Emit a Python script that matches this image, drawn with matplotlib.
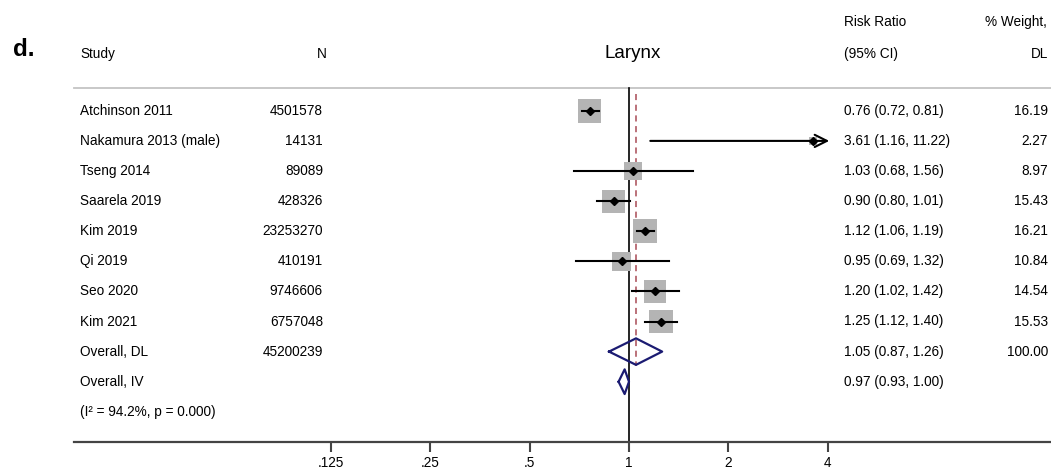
import numpy as np
import matplotlib.pyplot as plt

plt.rcParams['font.family'] = ['Liberation Sans', 'DejaVu Sans']

# study level data
studies = ['Atchinson 2011', 'Nakamura 2013 (male)', 'Tseng 2014', 'Saarela 2019',
           'Kim 2019', 'Qi 2019', 'Seo 2020', 'Kim 2021']
n_vals = [4501578, 14131, 89089, 428326, 23253270, 410191, 9746606, 6757048]
rr = [0.76, 3.61, 1.03, 0.90, 1.12, 0.95, 1.20, 1.25]
ci_lo = [0.72, 1.16, 0.68, 0.80, 1.06, 0.69, 1.02, 1.12]
ci_hi = [0.81, 11.22, 1.56, 1.01, 1.19, 1.32, 1.42, 1.40]
weights = [16.19, 2.27, 8.97, 15.43, 16.21, 10.84, 14.54, 15.53]

# pooled estimates
pooled_labels = ['Overall, DL', 'Overall, IV']
pooled_n = [45200239, None]
pooled_rr = [1.05, 0.97]
pooled_lo = [0.87, 0.93]
pooled_hi = [1.26, 1.00]
pooled_w = [100.00, None]
het_text = '(I\u00b2 = 94.2%, p = 0.000)'

xticks = [0.125, 0.25, 0.5, 1, 2, 4]
xtick_labels = ['.125', '.25', '.5', '1', '2', '4']

W, H = 1051, 470
fig = plt.figure(figsize=(W / 100, H / 100), dpi=100)
ax = fig.add_axes([0, 0, 1, 1])
ax.set_xscale('log', base=2)

# map pixels -> data: 1 at x=629, 99.4 px per doubling; rows 30.1 px apart
px_one, px_dbl = 629, 99.4
row0, row_h = 110.8, 30.1
ax.set_xlim(2 ** (-px_one / px_dbl), 2 ** ((W - px_one) / px_dbl))
ax.set_ylim((H - row0) / row_h, -row0 / row_h)

def fx(px):
    return px / W

def ry(py):
    return (py - row0) / row_h

tr = ax.get_yaxis_transform()  # x axes fraction, y data
fs = 9.8
x_max = 4
w_right = 1048  # right edge of the weight column

# header
fig.text(fx(13), 1 - 56 / H, 'd.', fontsize=17.5, fontweight='bold', va='baseline', ha='left')
ax.text(fx(80), ry(54), 'Study', transform=tr, fontsize=fs, va='center')
ax.text(fx(327), ry(54), 'N', transform=tr, fontsize=fs, va='center', ha='right')
ax.text(fx(633), ry(54), 'Larynx', transform=tr, fontsize=13.5, va='center', ha='center')
ax.text(fx(844), ry(22), 'Risk Ratio', transform=tr, fontsize=fs, va='center')
ax.text(fx(844), ry(54), '(95% CI)', transform=tr, fontsize=fs, va='center')
ax.text(fx(1047), ry(22), '% Weight,', transform=tr, fontsize=fs, va='center', ha='right')
ax.text(fx(w_right), ry(54), 'DL', transform=tr, fontsize=fs, va='center', ha='right')

# separator under header
ax.plot([fx(74), 1], [ry(88), ry(88)], transform=tr, color='#c4c4c4', lw=1.3, clip_on=False)

# null line and pooled DL line
ax.plot([1, 1], [ry(88), 11.0], color='black', lw=1.2, zorder=2)
ax.plot([pooled_rr[0]] * 2, [ry(94), ry(366)], color='#a84a55', lw=1.1,
        dashes=(4, 3), zorder=2)

rows = np.arange(len(studies))
for i in rows:
    ax.text(fx(80), i, studies[i], transform=tr, fontsize=fs, va='center')
    ax.text(fx(323), i, str(n_vals[i]), transform=tr, fontsize=fs, va='center', ha='right')
    ax.text(fx(844), i, f'{rr[i]:.2f} ({ci_lo[i]:.2f}, {ci_hi[i]:.2f})', transform=tr,
            fontsize=fs, va='center')
    ax.text(fx(w_right), i, f'{weights[i]:.2f}', transform=tr, fontsize=fs, va='center', ha='right')

# weight squares (side ~ sqrt weight)
sides_pt = 5.84 * np.sqrt(weights) * 0.72
ax.scatter(rr, rows, s=sides_pt ** 2, marker='s', color='#b4b4b4', lw=0, zorder=3)

# CI lines
for i in rows:
    if ci_hi[i] > x_max:
        ax.annotate('', xy=(x_max * 1.01, i), xytext=(ci_lo[i], i),
                    arrowprops=dict(arrowstyle='->', lw=1.5, color='black',
                                    mutation_scale=22, shrinkA=0, shrinkB=0), zorder=4)
    else:
        ax.plot([ci_lo[i], ci_hi[i]], [i, i], color='black', lw=1.5, zorder=4)
ax.plot(rr, rows, 'D', color='black', ms=3.8, zorder=5, ls='none')

# pooled rows
for k in range(2):
    r = len(studies) + k
    ax.text(fx(80), r, pooled_labels[k], transform=tr, fontsize=fs, va='center')
    if pooled_n[k] is not None:
        ax.text(fx(323), r, str(pooled_n[k]), transform=tr, fontsize=fs, va='center', ha='right')
    ax.text(fx(844), r, f'{pooled_rr[k]:.2f} ({pooled_lo[k]:.2f}, {pooled_hi[k]:.2f})',
            transform=tr, fontsize=fs, va='center')
    if pooled_w[k] is not None:
        ax.text(fx(w_right), r, f'{pooled_w[k]:.2f}', transform=tr, fontsize=fs, va='center', ha='right')
    hh = 0.44 if k == 0 else 0.41
    ax.plot([pooled_lo[k], pooled_rr[k], pooled_hi[k], pooled_rr[k], pooled_lo[k]],
            [r, r - hh, r, r + hh, r], color='#1b1b72', lw=1.6, zorder=5)

ax.text(fx(80), len(studies) + 2, het_text, transform=tr, fontsize=fs, va='center')

# x axis
for s in ['top', 'left', 'right']:
    ax.spines[s].set_visible(False)
ax.spines['bottom'].set_position(('data', 11.0))
ax.spines['bottom'].set_bounds(2 ** ((74 - px_one) / px_dbl), ax.get_xlim()[1])
ax.spines['bottom'].set_color('#444444')
ax.spines['bottom'].set_linewidth(1.6)
ax.set_xticks(xticks)
ax.set_xticklabels(xtick_labels)
ax.minorticks_off()
ax.tick_params(axis='x', direction='out', length=7.2, width=1.5, color='#444444',
               labelsize=fs, pad=3.2)
ax.set_yticks([])

fig.savefig('out.png', dpi=100)
